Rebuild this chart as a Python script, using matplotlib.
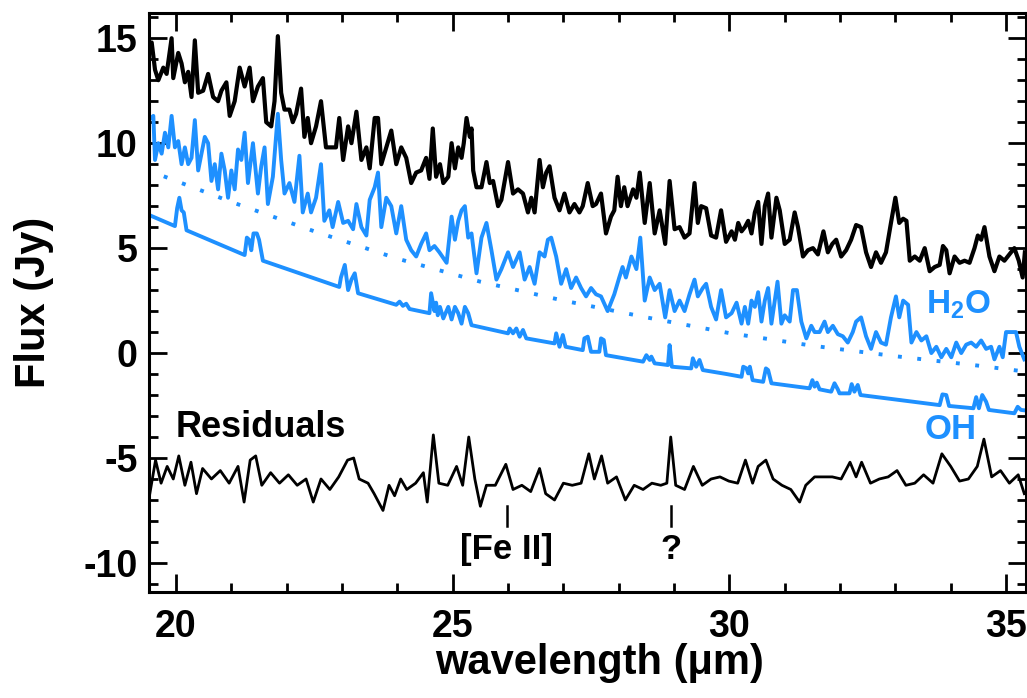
import matplotlib
matplotlib.use('Agg')
import matplotlib.pyplot as plt
from matplotlib.ticker import MultipleLocator

plt.rcParams['font.family'] = ['Liberation Sans', 'DejaVu Sans']
plt.rcParams['font.weight'] = 'bold'
plt.rcParams['axes.unicode_minus'] = False
plt.rcParams['mathtext.fontset'] = 'custom'
plt.rcParams['mathtext.rm'] = 'Liberation Sans:bold'
plt.rcParams['mathtext.bf'] = 'Liberation Sans:bold'
plt.rcParams['mathtext.it'] = 'Liberation Sans:bold'

BLUE = '#1E90FF'

# observed spectrum (black, top)
obs_x = [19.50, 19.56, 19.62, 19.68, 19.77, 19.83, 19.92, 19.95, 20.04, 20.10,
         20.16, 20.22, 20.28, 20.34, 20.40, 20.49, 20.58, 20.67, 20.76, 20.82,
         20.91, 20.97, 21.06, 21.15, 21.24, 21.33, 21.39, 21.48, 21.57, 21.63,
         21.72, 21.78, 21.84, 21.90, 21.96, 22.05, 22.11, 22.17, 22.26, 22.32,
         22.38, 22.44, 22.53, 22.62, 22.71, 22.80, 22.89, 22.95, 23.02, 23.11,
         23.17, 23.26, 23.35, 23.44, 23.50, 23.59, 23.65, 23.71, 23.80, 23.89,
         23.98, 24.07, 24.16, 24.25, 24.34, 24.43, 24.52, 24.58, 24.64, 24.70,
         24.77, 24.83, 24.92, 24.98, 25.04, 25.10, 25.16, 25.20, 25.25, 25.31,
         25.34, 25.37, 25.43, 25.52, 25.61, 25.67, 25.73, 25.82, 25.88, 26.00,
         26.09, 26.18, 26.27, 26.36, 26.42, 26.48, 26.57, 26.63, 26.69, 26.75,
         26.84, 26.93, 27.02, 27.11, 27.20, 27.29, 27.35, 27.44, 27.53, 27.59,
         27.68, 27.77, 27.86, 27.92, 27.98, 28.04, 28.10, 28.16, 28.26, 28.32,
         28.38, 28.47, 28.56, 28.65, 28.74, 28.84, 28.92, 29.01, 29.10, 29.19,
         29.28, 29.37, 29.43, 29.49, 29.58, 29.67, 29.76, 29.85, 29.94,
         30.04, 30.10, 30.16, 30.22, 30.28, 30.34, 30.40, 30.46, 30.52, 30.58,
         30.64, 30.70, 30.76, 30.85, 30.91, 31.00, 31.09, 31.18, 31.24, 31.33,
         31.42, 31.51, 31.60, 31.70, 31.78, 31.86, 31.93, 32.02, 32.11, 32.20,
         32.29, 32.38, 32.47, 32.56, 32.65, 32.74, 32.83, 32.92, 33.00, 33.07,
         33.14, 33.20, 33.26, 33.35, 33.44, 33.53, 33.62, 33.71, 33.80, 33.86,
         33.92, 33.98, 34.07, 34.16, 34.25, 34.34, 34.43, 34.49, 34.55, 34.61,
         34.70, 34.79, 34.88, 34.97, 35.06, 35.15, 35.23, 35.30, 35.34]
obs_y = [14.4, 14.8, 13.5, 13.0, 13.6, 13.3, 15.0, 13.1, 14.3, 13.8,
         12.9, 13.4, 12.2, 14.9, 12.4, 12.5, 13.3, 12.2, 12.0, 12.5,
         12.9, 11.3, 12.0, 13.6, 12.7, 13.6, 12.0, 12.7, 13.1, 11.0,
         10.8, 12.0, 15.1, 12.4, 11.6, 11.6, 11.0, 11.4, 12.6, 10.3,
         11.2, 10.0, 10.8, 12.0, 9.8, 9.8, 9.8, 11.2, 9.2, 10.8,
         10.0, 11.5, 9.2, 9.8, 8.8, 11.2, 11.2, 9.0, 9.8, 10.6,
         9.0, 9.8, 9.3, 8.1, 8.6, 8.7, 9.3, 8.3, 10.7, 8.4,
         9.0, 8.1, 8.4, 10.0, 8.8, 9.8, 9.3, 10.0, 11.2, 10.3,
         10.7, 8.7, 7.9, 7.9, 9.1, 8.1, 8.2, 7.0, 7.3, 9.1,
         7.6, 7.8, 7.6, 6.7, 7.4, 6.7, 9.2, 7.9, 8.6, 8.9,
         7.4, 6.8, 7.6, 6.7, 7.1, 6.7, 7.0, 8.1, 7.0, 7.1,
         7.6, 5.7, 6.5, 6.8, 8.4, 7.0, 7.9, 7.0, 7.8, 7.4,
         8.6, 6.2, 8.1, 5.7, 6.8, 5.2, 8.2, 5.9, 6.0, 5.5,
         5.7, 8.1, 6.2, 7.0, 6.9, 5.6, 5.5, 6.8, 5.3,
         5.8, 5.4, 6.2, 5.8, 6.0, 6.3, 5.7, 6.7, 7.2, 5.2,
         7.0, 7.6, 5.5, 7.4, 6.8, 5.2, 5.4, 6.7, 6.0, 4.6,
         4.9, 5.0, 4.7, 5.8, 4.8, 5.2, 5.4, 4.6, 4.9, 5.4,
         6.1, 6.0, 4.8, 4.1, 4.8, 4.3, 4.8, 6.2, 7.4, 6.2,
         6.4, 6.3, 4.4, 4.6, 4.4, 5.0, 3.9, 4.1, 4.2, 5.1,
         4.9, 3.8, 4.6, 4.3, 4.4, 4.3, 5.0, 5.6, 5.4, 6.0,
         4.6, 3.9, 4.6, 4.4, 4.7, 5.0, 4.4, 3.6, 4.8]

# H2O model + continuum (blue, noisy)
h2o_x = [19.50, 19.59, 19.62, 19.68, 19.74, 19.80, 19.86, 19.92, 19.98, 20.04,
         20.10, 20.16, 20.22, 20.28, 20.34, 20.40, 20.46, 20.52, 20.58, 20.64,
         20.70, 20.76, 20.82, 20.88, 20.94, 21.00, 21.06, 21.12, 21.18, 21.24,
         21.30, 21.39, 21.48, 21.54, 21.60, 21.66, 21.75, 21.84, 21.90, 21.96,
         22.05, 22.14, 22.23, 22.29, 22.38, 22.44, 22.53, 22.62, 22.68, 22.77,
         22.83, 22.93, 23.02, 23.11, 23.20, 23.26, 23.35, 23.44, 23.50, 23.59,
         23.65, 23.71, 23.80, 23.89, 23.98, 24.07, 24.16, 24.25, 24.34, 24.43,
         24.52, 24.58, 24.67, 24.76,
         24.89, 24.98, 25.04, 25.10, 25.16, 25.22, 25.28, 25.34, 25.43, 25.52,
         25.61, 25.70, 25.79, 25.88, 26.00, 26.09, 26.21, 26.30, 26.39, 26.48,
         26.57, 26.66, 26.72, 26.78, 26.87, 26.96, 27.05, 27.14, 27.23, 27.32,
         27.41, 27.50, 27.59, 27.68, 27.80, 27.92, 28.01, 28.07, 28.13, 28.23,
         28.32, 28.39, 28.47, 28.56, 28.65, 28.74, 28.84, 28.92, 29.01, 29.10,
         29.19, 29.28, 29.37, 29.43, 29.52, 29.58, 29.67, 29.76, 29.85, 29.94,
         30.04, 30.13, 30.22, 30.28, 30.34, 30.40, 30.46, 30.52, 30.58, 30.64,
         30.70, 30.76, 30.82, 30.87, 30.94, 31.00, 31.09, 31.15, 31.22, 31.30,
         31.39, 31.48, 31.54, 31.63, 31.72, 31.78, 31.87, 31.96, 32.05, 32.14,
         32.23, 32.29, 32.38, 32.47, 32.56, 32.65, 32.74, 32.83, 32.92, 33.01,
         33.07, 33.14, 33.23, 33.29, 33.38, 33.47, 33.56, 33.65, 33.74, 33.83,
         33.92, 34.01, 34.10, 34.19, 34.28, 34.37, 34.46, 34.55, 34.64, 34.73,
         34.79, 34.88, 34.94, 35.00, 35.09, 35.18, 35.24, 35.33]
h2o_y = [11.1, 11.3, 9.2, 10.0, 9.5, 10.5, 9.8, 11.3, 9.8, 10.1,
         9.0, 9.8, 9.0, 9.3, 11.1, 8.7, 9.5, 10.3, 10.0, 8.2,
         9.0, 7.8, 9.5, 8.7, 7.4, 8.7, 7.8, 9.7, 9.2, 10.5,
         8.1, 10.0, 7.6, 8.9, 9.8, 7.1, 8.4, 11.4, 9.2, 7.6,
         8.1, 7.2, 9.4, 6.7, 7.6, 6.7, 7.4, 9.0, 6.3, 6.8,
         6.0, 7.2, 6.2, 6.3, 5.9, 7.1, 6.0, 5.6, 7.3, 7.9,
         8.6, 6.0, 7.4, 7.0, 5.7, 7.0, 5.4, 4.9, 4.6, 5.2,
         5.7, 4.9, 5.1, 4.8,
         4.3, 6.5, 5.4, 6.3, 6.8, 7.0, 5.5, 5.7, 3.8, 5.5,
         6.2, 4.9, 3.5, 4.0, 4.8, 4.1, 4.8, 3.5, 4.1, 3.3,
         4.8, 4.6, 5.4, 5.5, 4.6, 3.3, 4.0, 3.1, 3.6, 3.1,
         2.7, 3.1, 2.8, 2.7, 2.0, 2.8, 3.6, 4.1, 3.6, 4.6,
         4.0, 5.5, 2.5, 3.6, 3.0, 3.3, 1.7, 3.0, 2.0, 2.5,
         2.0, 2.8, 3.5, 2.7, 3.1, 3.3, 2.2, 1.6, 3.0, 1.7,
         1.9, 2.4, 1.4, 2.2, 1.4, 2.5, 2.2, 2.9, 1.5, 2.5,
         3.1, 1.4, 2.5, 3.4, 1.4, 1.8, 1.5, 3.0, 3.0, 1.5,
         0.7, 1.3, 1.0, 1.0, 1.5, 1.0, 1.3, 0.9, 0.8, 0.5,
         1.0, 1.5, 1.7, 0.8, 0.2, 1.0, 0.5, 0.4, 1.7, 2.7,
         1.7, 2.5, 2.3, 0.5, 1.0, 0.6, 0.8, 0.0, 0.3, -0.2,
         0.2, -0.2, 0.5, 0.0, 0.4, 0.5, 0.3, 0.6, 0.2, 0.3,
         -0.3, 0.3, -0.2, 1.0, 1.0, 1.0, 0.3, -0.3]

# continuum (blue dotted)
cont_x = [19.45, 21.0, 22.5, 24.0, 25.5, 27.0, 28.5, 30.0, 31.5, 33.0, 34.5, 35.4]
cont_y = [8.75, 7.2, 5.8, 4.5, 3.4, 2.5, 1.7, 0.95, 0.35, -0.15, -0.6, -0.9]

# OH model (blue solid, offset)
oh_x = [19.45, 19.98, 20.02, 20.06, 20.10, 20.14, 20.19, 21.24, 21.28, 21.32,
        21.36, 21.40, 21.46, 21.50, 21.57, 22.95, 22.98, 23.05, 23.11, 23.17,
        23.23, 23.29, 23.98, 24.04, 24.10, 24.16, 24.22, 24.58, 24.61, 24.67,
        24.70, 24.73, 24.77, 24.83, 24.92, 24.98, 25.04, 25.10, 25.16, 25.22,
        25.28, 25.34, 26.00, 26.03, 26.09, 26.15, 26.21, 26.27, 26.33, 26.84,
        26.87, 26.93, 26.99, 27.04, 27.35, 27.38, 27.44, 27.50, 27.65, 27.68,
        27.73, 27.77, 28.44, 28.50, 28.56, 28.59, 28.65, 28.89, 28.92, 28.96,
        29.31, 29.34, 29.40, 29.46, 29.52, 29.95, 30.22, 30.25, 30.31, 30.34,
        30.37, 30.42, 30.61, 30.66, 30.70, 30.76, 31.45, 31.50, 31.54, 31.58,
        31.63, 31.84, 31.90, 31.96, 31.99, 32.17, 32.21, 32.26, 32.32, 32.37,
        33.80, 33.85, 33.92, 33.97, 34.41, 34.46, 34.51, 34.57, 34.64, 34.69,
        35.15, 35.21, 35.27, 35.40]
oh_y = [6.65, 6.05, 6.9, 7.4, 6.8, 6.7, 5.85, 4.67, 5.5, 5.4,
        4.9, 5.7, 5.7, 5.4, 4.4, 3.15, 3.6, 4.2, 3.0, 3.5,
        3.8, 2.85, 2.3, 2.45, 2.25, 2.35, 2.1, 1.9, 2.85, 2.0,
        2.4, 1.8, 2.2, 1.65, 2.2, 1.6, 2.2, 1.9, 1.4, 2.2,
        1.9, 1.33, 0.94, 1.17, 0.94, 1.17, 0.78, 1.1, 0.7, 0.46,
        0.94, 0.3, 0.86, 0.3, 0.14, 0.7, 0.78, 0.06, 0.06, 0.7,
        0.62, -0.1, -0.41, -0.1, -0.33, -0.17, -0.49, -0.57, 0.38, -0.65,
        -0.73, -0.25, -0.65, -0.33, -0.81, -1.0, -1.13, -0.65, -0.73, -0.97,
        -0.65, -1.29, -1.37, -0.73, -0.81, -1.44, -1.68, -1.29, -1.6, -1.41,
        -1.73, -1.84, -1.44, -1.73, -1.92, -1.92, -1.48, -1.84, -1.52, -2.0,
        -2.48, -1.97, -2.0, -2.52, -2.63, -2.1, -2.63, -2.0, -2.32, -2.71,
        -2.87, -2.56, -2.71, -2.75]

# residuals (black, bottom)
res_x = [19.52, 19.63, 19.73, 19.84, 19.95, 20.05, 20.16, 20.27, 20.37, 20.48,
         20.64, 20.80, 20.96, 21.12, 21.23, 21.34, 21.44, 21.55, 21.71, 21.87,
         22.03, 22.19, 22.35, 22.48, 22.62, 22.78, 22.94, 23.10, 23.21, 23.31,
         23.47, 23.58, 23.74, 23.85, 23.95, 24.06, 24.17, 24.33, 24.47, 24.54,
         24.65, 24.75, 24.91, 25.07, 25.18, 25.29, 25.40, 25.50, 25.61, 25.77,
         25.96, 26.09, 26.25, 26.41, 26.57, 26.68, 26.84, 27.00, 27.16, 27.32,
         27.46, 27.56, 27.69, 27.80, 27.96, 28.12, 28.28, 28.44, 28.60, 28.76,
         28.87, 28.94, 29.03, 29.19, 29.35, 29.51, 29.67, 29.83, 29.99, 30.15,
         30.29, 30.42, 30.52, 30.66, 30.79, 30.95, 31.11, 31.27, 31.38, 31.54,
         31.70, 31.86, 32.02, 32.18, 32.29, 32.39, 32.55, 32.71, 32.87, 33.03,
         33.19, 33.35, 33.51, 33.68, 33.84, 34.00, 34.16, 34.32, 34.48, 34.60,
         34.74, 34.90, 35.06, 35.22, 35.33]
res_y = [-6.8, -5.1, -6.2, -5.4, -6.0, -4.9, -6.3, -5.2, -6.7, -5.5,
         -6.0, -5.6, -6.2, -5.4, -7.1, -5.1, -4.9, -6.3, -5.7, -6.2,
         -5.8, -6.3, -6.0, -7.1, -6.0, -6.5, -5.9, -5.1, -5.0, -6.0,
         -6.2, -6.7, -7.5, -6.3, -6.8, -6.0, -6.5, -6.2, -5.7, -7.1,
         -3.9, -6.2, -6.3, -5.4, -6.3, -4.0, -6.0, -7.3, -6.3, -6.3,
         -5.3, -6.5, -6.3, -6.6, -5.5, -6.7, -7.0, -6.2, -6.3, -6.2,
         -4.8, -6.0, -4.9, -6.2, -5.9, -7.0, -6.3, -6.5, -6.2, -6.3,
         -6.2, -4.0, -6.3, -6.5, -5.4, -6.3, -6.0, -5.9, -6.1, -6.2,
         -5.1, -6.2, -5.4, -5.1, -6.0, -6.3, -6.5, -7.1, -6.3, -5.9,
         -5.9, -5.9, -6.0, -5.2, -5.9, -5.2, -6.2, -6.0, -5.9, -5.6,
         -6.3, -6.2, -5.8, -6.2, -4.8, -5.4, -6.1, -6.0, -5.4, -4.1,
         -5.9, -5.6, -6.2, -5.8, -6.7]

# line identifications
mark_x = [25.98, 28.94]
mark_lbl = ['[Fe II]', '?']

fig = plt.figure(figsize=(10.27, 6.98), dpi=100)
ax = fig.add_axes([0.145, 0.152, 0.854, 0.829])

ax.plot(obs_x, obs_y, color='black', lw=3.0)
ax.plot(h2o_x, h2o_y, color=BLUE, lw=2.8)
ax.plot(cont_x, cont_y, color=BLUE, lw=2.8, ls=(0, (1, 4.0)))
ax.plot(oh_x, oh_y, color=BLUE, lw=2.8)
ax.plot(res_x, res_y, color='black', lw=2.0)

for mx, ml in zip(mark_x, mark_lbl):
    ax.plot([mx, mx], [-7.3, -8.25], color='black', lw=1.8)
    ax.text(mx, -9.35, ml, ha='center', va='center', fontsize=25, fontweight='bold')

ax.text(20.0, -3.55, 'Residuals', ha='left', va='center', fontsize=26, fontweight='bold')
ax.text(33.56, 2.3, 'H$_2$O', ha='left', va='center', fontsize=24, fontweight='bold', color=BLUE)
ax.text(33.52, -3.65, 'OH', ha='left', va='center', fontsize=25, fontweight='bold', color=BLUE)

ax.set_xlim(19.51, 35.36)
ax.set_ylim(-11.38, 16.19)
ax.xaxis.set_major_locator(MultipleLocator(5))
ax.xaxis.set_minor_locator(MultipleLocator(1))
ax.yaxis.set_major_locator(MultipleLocator(5))
ax.yaxis.set_minor_locator(MultipleLocator(1))
ax.tick_params(which='both', direction='in', top=True, right=True, width=2.0)
ax.tick_params(which='major', length=13, labelsize=27)
ax.tick_params(which='minor', length=6.5)
ax.tick_params(axis='x', which='major', pad=12)
ax.tick_params(axis='y', which='major', pad=8)
for lbl in ax.get_xticklabels() + ax.get_yticklabels():
    lbl.set_fontweight('bold')
for sp in ax.spines.values():
    sp.set_linewidth(2.2)

ax.set_xlabel('wavelength (\u03bcm)', fontsize=30, fontweight='bold')
ax.set_ylabel('Flux (Jy)', fontsize=30, fontweight='bold')
ax.xaxis.set_label_coords(0.514, -0.088)
ax.yaxis.set_label_coords(-0.108, 0.5)

fig.savefig('out.png', dpi=100)
